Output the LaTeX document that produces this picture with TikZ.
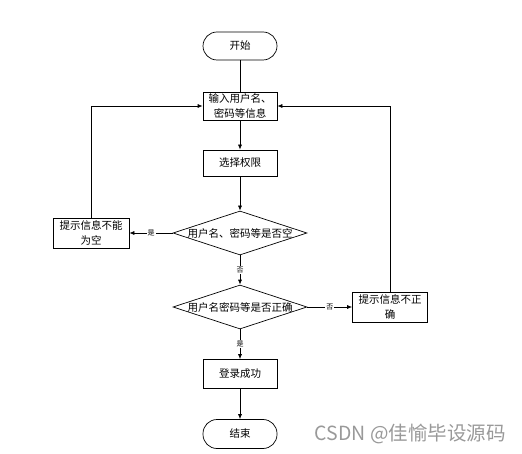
\documentclass[tikz,border=0pt]{standalone}
\usepackage{fontspec}
\newfontfamily\cjk{Noto Sans CJK SC}
\usetikzlibrary{shapes.geometric,arrows.meta}
\begin{document}
\begin{tikzpicture}[x=1pt,y=-1pt,
  every path/.style={line width=0.7pt},
  txt/.style={font=\cjk\fontsize{10.5}{14.5}\selectfont},
  term/.style={draw, txt, rounded corners=14pt, minimum width=74pt, minimum height=28pt, inner sep=0pt},
  proc/.style={draw, txt, align=center, minimum width=74pt, minimum height=28pt, inner sep=1pt},
  dec/.style={draw, diamond, minimum width=134pt, minimum height=44pt, inner sep=0pt},
  lbl/.style={fill=white, inner sep=1pt, font=\cjk\fontsize{7}{8}\selectfont},
  arr/.style={-{Latex[length=5pt,width=4pt]}}]
\useasboundingbox (0,0) rectangle (522,454);
\node[term] (start) at (240,46) {开始};
\node[proc] (in) at (240,106) {输入用户名、\\密码等信息};
\node[proc, minimum height=26pt] (sel) at (240,163) {选择权限};
\node[dec, label={[txt]center:用户名、密码等是否空}] (d1) at (240,233) {};
\node[proc, minimum width=76pt, minimum height=30pt] (empty) at (91,233) {提示信息不能\\为空};
\node[dec, label={[txt]center:用户名密码等是否正确}] (d2) at (240,307) {};
\node[proc, minimum width=75pt, minimum height=30pt] (wrong) at (390,307) {提示信息不正\\确};
\node[proc, minimum height=29pt] (ok) at (240,374) {登录成功};
\node[term, minimum height=29pt] (end) at (240,434) {结束};
\node[anchor=west, text=black!40, font=\cjk\fontsize{19.5}{21}\selectfont] (wm) at (311,434) {CSDN @佳愉毕设源码};
\draw (start) -- (in);
\draw[arr] (in) -- (sel);
\draw[arr] (sel) -- (d1);
\draw[arr] (d1) -- node[lbl]{否} (d2);
\draw[arr] (d2) -- node[lbl]{是} (ok);
\draw[arr] (ok) -- (end);
\draw[arr] (d1) -- node[lbl]{是} (empty);
\draw[arr] (empty) |- (in);
\draw[arr] (d2) -- node[lbl]{否} (wrong);
\draw[arr] (wrong) |- (in);
\end{tikzpicture}
\end{document}
